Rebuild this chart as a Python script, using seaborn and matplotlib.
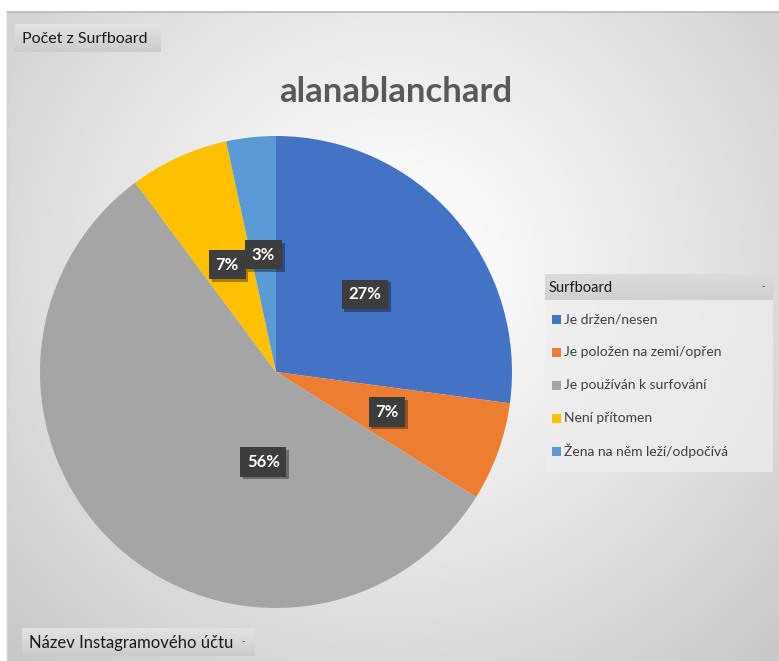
import numpy as np
import matplotlib
matplotlib.use("Agg")
import matplotlib.pyplot as plt
import matplotlib.patheffects as pe
from matplotlib.patches import Rectangle
import seaborn as sns

# Pivot data: count of posts per surfboard situation
categories = ["Je držen/nesen", "Je položen na zemi/opřen", "Je používán k surfování",
              "Není přítomen", "Žena na něm leží/odpočívá"]
counts = [16, 4, 33, 4, 2]
title = "alanablanchard"
field_button = "Počet z Surfboard"
axis_button = "Název Instagramového účtu"
legend_title = "Surfboard"

sns.set_theme(style="white")
plt.rcParams["font.family"] = ["Lato", "DejaVu Sans"]

palette = sns.color_palette(["#4472C4", "#ED7D31", "#A5A5A5", "#FFC000", "#5B9BD5"])

W, H = 779, 661
fig = plt.figure(figsize=(W / 100, H / 100), dpi=100)
fig.patch.set_facecolor("white")

# Chart-area background: soft radial gradient
bg = fig.add_axes([0, 0, 1, 1])
bg.set_xlim(0, W)
bg.set_ylim(H, 0)
bg.axis("off")
yy, xx = np.mgrid[0:H, 0:W]
d = np.sqrt(((xx - 390) / 560.0) ** 2 + ((yy - 260) / 560.0) ** 2)
shade = 1.0 - 0.22 * np.clip(d, 0, 1.2) ** 1.2
img = np.dstack([shade] * 3)
bg.imshow(img, extent=(7, W, H, 12), aspect="auto", interpolation="bilinear", zorder=0)
bg.plot([7, W], [12, 12], color="#b8b8b8", lw=1.2, zorder=1)
bg.plot([7, 7], [12, H], color="#d0d0d0", lw=1.0, zorder=1)

# Pivot field buttons with a vertical grey gradient
grad = np.linspace(0.89, 0.80, 32)[:, None] * np.ones((1, 4))
btn_img = np.dstack([grad] * 3)


def button(x0, y0, w, h, text, arrow=False, size=11.5):
    bg.imshow(btn_img, extent=(x0, x0 + w, y0 + h, y0), aspect="auto",
              interpolation="bilinear", zorder=2)
    bg.text(x0 + 7, y0 + h / 2 + 1, text, fontsize=size, color="#1a1a1a",
            va="center", ha="left", zorder=3)
    if arrow:
        bg.text(x0 + w - 12, y0 + h / 2, "-", fontsize=7, color="#404040",
                va="center", ha="center", zorder=3)


button(15, 24, 146, 28, field_button, size=11.5)
button(22, 628, 233, 28, axis_button, arrow=True, size=12)

bg.text(396, 92, title, fontsize=25, fontweight="bold", color="#595959",
        ha="center", va="center", zorder=3)

# Legend panel
hdr = np.linspace(0.86, 0.82, 16)[:, None] * np.ones((1, 4))
bg.imshow(np.dstack([hdr] * 3), extent=(545, 773, 300, 274), aspect="auto",
          interpolation="bilinear", zorder=2)
bg.text(549, 288, legend_title, fontsize=10.5, color="#1a1a1a", va="center", ha="left", zorder=3)
bg.text(763, 287, "-", fontsize=7, color="#404040", va="center", ha="center", zorder=3)
bg.add_patch(Rectangle((545, 300), 228, 172, facecolor="#eeeeee", edgecolor="none",
                       alpha=0.75, zorder=2))
for i, (lab, col) in enumerate(zip(categories, palette)):
    y = 319 + i * 33
    bg.add_patch(Rectangle((552, y - 4.5), 9, 9, facecolor=col, edgecolor="none", zorder=3))
    bg.text(564, y, lab, fontsize=10, color="#404040", va="center", ha="left", zorder=3)

# Pie
cx, cy, r = 276, 372, 236
ax = fig.add_axes([(cx - r) / W, (H - cy - r) / H, 2 * r / W, 2 * r / H])
ax.set_facecolor("none")
wedges, _ = ax.pie(counts, colors=palette, startangle=90, counterclock=False,
                   wedgeprops=dict(linewidth=0))
ax.set_xlim(-1, 1)
ax.set_ylim(-1, 1)
ax.set_aspect("equal")
ax.axis("off")

# Data labels: slice centre at half radius, best-fit override for the large slice
total = sum(counts)
label_place = {2: (262.0, 0.385)}
for i, (w, c) in enumerate(zip(wedges, counts)):
    ang = (w.theta1 + w.theta2) / 2.0
    rad = 0.5
    if i in label_place:
        ang, rad = label_place[i]
    x = rad * np.cos(np.deg2rad(ang))
    y = rad * np.sin(np.deg2rad(ang))
    t = ax.text(x, y, f"{round(100 * c / total)}%", fontsize=12, fontweight="bold",
                color="white", ha="center", va="center", zorder=5,
                bbox=dict(boxstyle="square,pad=0.4", facecolor="#3d3d3d", edgecolor="none"))
    t.get_bbox_patch().set_path_effects([
        pe.SimplePatchShadow(offset=(2, -2), shadow_rgbFace="#000000", alpha=0.35),
        pe.Normal()])

fig.savefig("out.png", dpi=100)
